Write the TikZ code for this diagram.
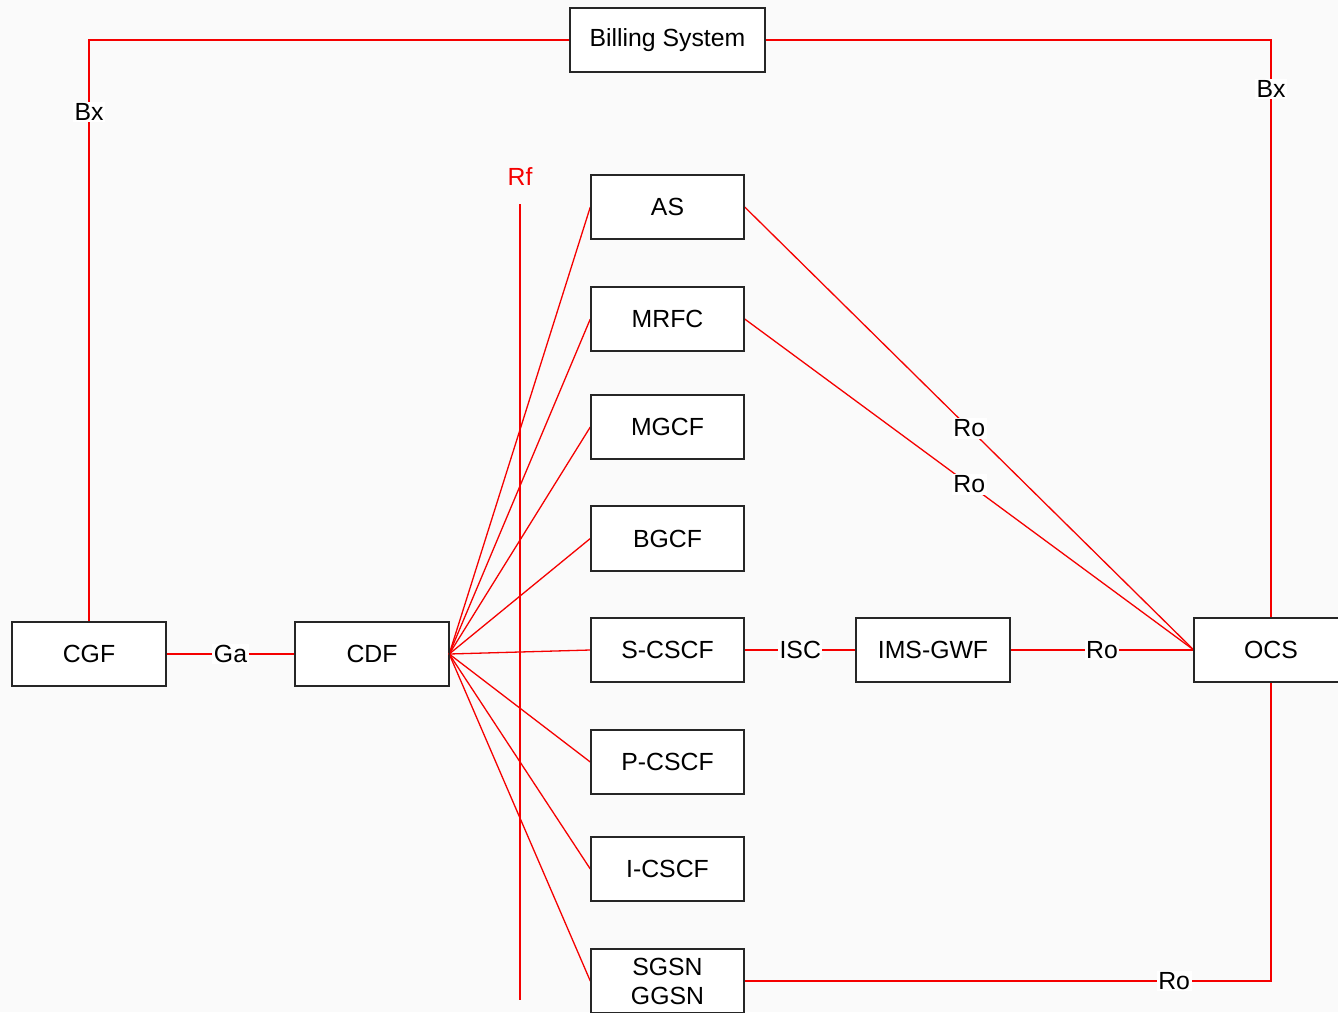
\documentclass[tikz,border=0pt]{standalone}
\usepackage{fontspec}
\setmainfont{Liberation Sans}
\definecolor{linkred}{RGB}{245,0,0}
\begin{document}
\begin{tikzpicture}[x=1pt,y=-1pt,
  box/.style={draw=black!85, line width=1.4pt, fill=white, minimum width=153pt,
    minimum height=64pt, inner sep=0pt, align=center,
    font=\fontsize{24.8}{29}\selectfont},
  link/.style={draw=linkred, line width=1.3pt},
  lbl/.style={fill=white, inner sep=1.5pt, font=\fontsize{24.8}{28}\selectfont}]

% page area
\fill[black!2] (0,0) rectangle (1338,1012);
\useasboundingbox (0,0) rectangle (1338,1012);

% network elements
\node[box, minimum width=195pt] (bill) at (667.5,40) {Billing System};
\node[box] (as)    at (667.5,207) {AS};
\node[box] (mrfc)  at (667.5,319) {MRFC};
\node[box] (mgcf)  at (667.5,427) {MGCF};
\node[box] (bgcf)  at (667.5,538.5) {BGCF};
\node[box] (scscf) at (667.5,650) {S-CSCF};
\node[box] (pcscf) at (667.5,762) {P-CSCF};
\node[box] (icscf) at (667.5,869) {I-CSCF};
\node[box] (sgsn)  at (667.5,981) {SGSN\\GGSN};
\node[box] (cgf)   at (89,654) {CGF};
\node[box] (cdf)   at (372,654) {CDF};
\node[box] (gwf)   at (933,650) {IMS-GWF};
\node[box] (ocs)   at (1271,650) {OCS};

% Rf reference point
\coordinate (rftop) at (520,204);
\coordinate (rfbot) at (520,1000);
\draw[link] (rftop) -- (rfbot);
\node[text=linkred, font=\fontsize{24.8}{28}\selectfont] (rf) at (520,177) {Rf};

% offline charging: CDF to the IMS nodes
\foreach \n in {as,mrfc,mgcf,bgcf,scscf,pcscf,icscf,sgsn}
  \draw[link] (cdf.east) -- (\n.west);

% Ga and Bx
\draw[link] (cgf) -- node[lbl] {Ga} (cdf);
\coordinate (bxl) at (cgf.north |- bill.west);
\coordinate (bxr) at (ocs.north |- bill.east);
\draw[link] (cgf.north) -- node[lbl, pos=0.876] {Bx} (bxl) -- (bill.west);
\draw[link] (bill.east) -- (bxr) -- node[lbl, pos=0.085] {Bx} (ocs.north);

% online charging: Ro towards OCS
\draw[link] (as.east) -- node[lbl] {Ro} (ocs.west);
\draw[link] (mrfc.east) -- node[lbl] {Ro} (ocs.west);
\draw[link] (scscf) -- node[lbl] {ISC} (gwf);
\draw[link] (gwf) -- node[lbl] {Ro} (ocs);
\coordinate (sgcorner) at (ocs.south |- sgsn.east);
\draw[link] (sgsn.east) -- node[lbl, pos=0.816] {Ro} (sgcorner) -- (ocs.south);

% redraw box outlines above the lines
\foreach \n in {bill,as,mrfc,mgcf,bgcf,scscf,pcscf,icscf,sgsn,cgf,cdf,gwf,ocs}
  \draw[draw=black!85, line width=1.4pt] (\n.north west) rectangle (\n.south east);
\end{tikzpicture}
\end{document}
